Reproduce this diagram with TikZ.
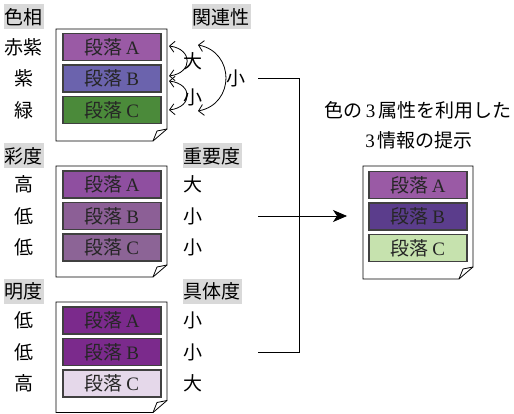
\documentclass[tikz,border=0pt]{standalone}
\usepackage{fontspec}
\setmainfont{Liberation Serif}
\newfontfamily\jp{Noto Sans CJK JP}
\usetikzlibrary{arrows.meta}
\definecolor{tAa}{HTML}{9A5AA5}
\definecolor{tBb}{HTML}{6B63AD}
\definecolor{tCc}{HTML}{4B8A3A}
\definecolor{mAa}{HTML}{8F4FA0}
\definecolor{mBb}{HTML}{8C5F96}
\definecolor{mCc}{HTML}{8C6496}
\definecolor{bAa}{HTML}{7B2A8C}
\definecolor{bCc}{HTML}{E5D8EA}
\definecolor{rBb}{HTML}{5B3D8C}
\definecolor{rCc}{HTML}{C6E2AE}
\definecolor{labgray}{HTML}{D9D9D9}
\newcommand\dl[1]{{\jp 段落}\hspace{3.5pt}{\rmfamily #1}}
\begin{document}
\begin{tikzpicture}[x=1pt,y=-1pt,
  every node/.style={font=\fontsize{19}{21}\selectfont\jp, inner sep=0pt},
  para/.style={draw=black!75, line width=1.1pt, minimum width=98pt, minimum height=27pt, text=black!85},
  page/.style={draw=black, line width=0.8pt, fill=white},
  head/.style={fill=labgray, inner xsep=1pt, minimum height=25pt},
  rel/.style={line width=0.8pt, {Straight Barb[length=5pt,width=11pt]}-{Straight Barb[length=5pt,width=11pt]}},
  conn/.style={line width=0.8pt}
]
\useasboundingbox (0,0) rectangle (514,414);
% pages
\foreach \L/\T/\R/\B in {56/29/167/141, 56/166/167/277, 56/302/167/412.5, 363/166/473/279}{
  \draw[page] (\L,\T) -- (\R,\T) -- (\R,\B-12) -- (\R-14,\B) -- (\L,\B) -- cycle;
  \draw[line width=0.8pt, line join=round] (\R-14,\B) -- (\R-10,\B-10) -- (\R,\B-12);
}
% top document
\node[para, fill=tAa] (t1) at (112,47) {\dl{A}};
\node[para, fill=tBb] (t2) at (112,78.5) {\dl{B}};
\node[para, fill=tCc] (t3) at (112,110) {\dl{C}};
\node[head] (h1) at (24,17) {色相};
\node[head] (h2) at (221,17) {関連性};
\node (l11) at (24,47) {赤紫};
\node (l12) at (24,78.5) {紫};
\node (l13) at (24,110) {緑};
\coordinate (a1) at (169,46);
\coordinate (a2) at (169,76);
\coordinate (a3) at (169,81);
\coordinate (a4) at (169,110);
\coordinate (a5) at (198,45);
\coordinate (a6) at (198,111);
\draw[rel] (a1) .. controls (193,49) and (193,73) .. (a2);
\draw[rel] (a3) .. controls (193,84) and (193,107) .. (a4);
\draw[rel] (a5) .. controls (235,52) and (235,104) .. (a6);
\node (r1) at (193,61) {大};
\node (r2) at (193,97) {小};
\node (r3) at (236,78) {小};
% middle document
\node[para, fill=mAa] (m1) at (112,184.5) {\dl{A}};
\node[para, fill=mBb] (m2) at (112,216) {\dl{B}};
\node[para, fill=mCc] (m3) at (112,247.5) {\dl{C}};
\node[head] (h3) at (24,156) {彩度};
\node[head] (h4) at (212,156) {重要度};
\node (l21) at (24,184.5) {高};
\node (l22) at (24,216) {低};
\node (l23) at (24,247.5) {低};
\node[anchor=west] (r21) at (183,184.5) {大};
\node[anchor=west] (r22) at (183,216) {小};
\node[anchor=west] (r23) at (183,247.5) {小};
% bottom document
\node[para, fill=bAa] (b1) at (112,320.5) {\dl{A}};
\node[para, fill=bAa] (b2) at (112,352) {\dl{B}};
\node[para, fill=bCc] (b3) at (112,383.5) {\dl{C}};
\node[head] (h5) at (24,291) {明度};
\node[head] (h6) at (212,291) {具体度};
\node (l31) at (24,320.5) {低};
\node (l32) at (24,352) {低};
\node (l33) at (24,383.5) {高};
\node[anchor=west] (r31) at (183,320.5) {小};
\node[anchor=west] (r32) at (183,352) {小};
\node[anchor=west] (r33) at (183,383.5) {大};
% right document
\node[para, fill=tAa] (q1) at (418,185) {\dl{A}};
\node[para, fill=rBb] (q2) at (418,216.5) {\dl{B}};
\node[para, fill=rCc] (q3) at (418,248) {\dl{C}};
\node (t1l) at (418,110) {色の\hspace{3pt}{\rmfamily 3}\hspace{3pt}属性を利用した};
\node (t2l) at (419,140) {{\rmfamily 3}\hspace{3pt}情報の提示};
% connectors
\coordinate (s1) at (258,78.5);
\coordinate (s2) at (258,216);
\coordinate (s3) at (258,352);
\coordinate (v1) at (299,78.5);
\coordinate (v3) at (299,352);
\coordinate (e2) at (347,216);
\draw[conn] (s1) -- (v1) -- (v3) -- (s3);
\draw[conn, -{Stealth[length=14pt,width=12pt,inset=4pt]}] (s2) -- (e2);
\end{tikzpicture}
\end{document}
